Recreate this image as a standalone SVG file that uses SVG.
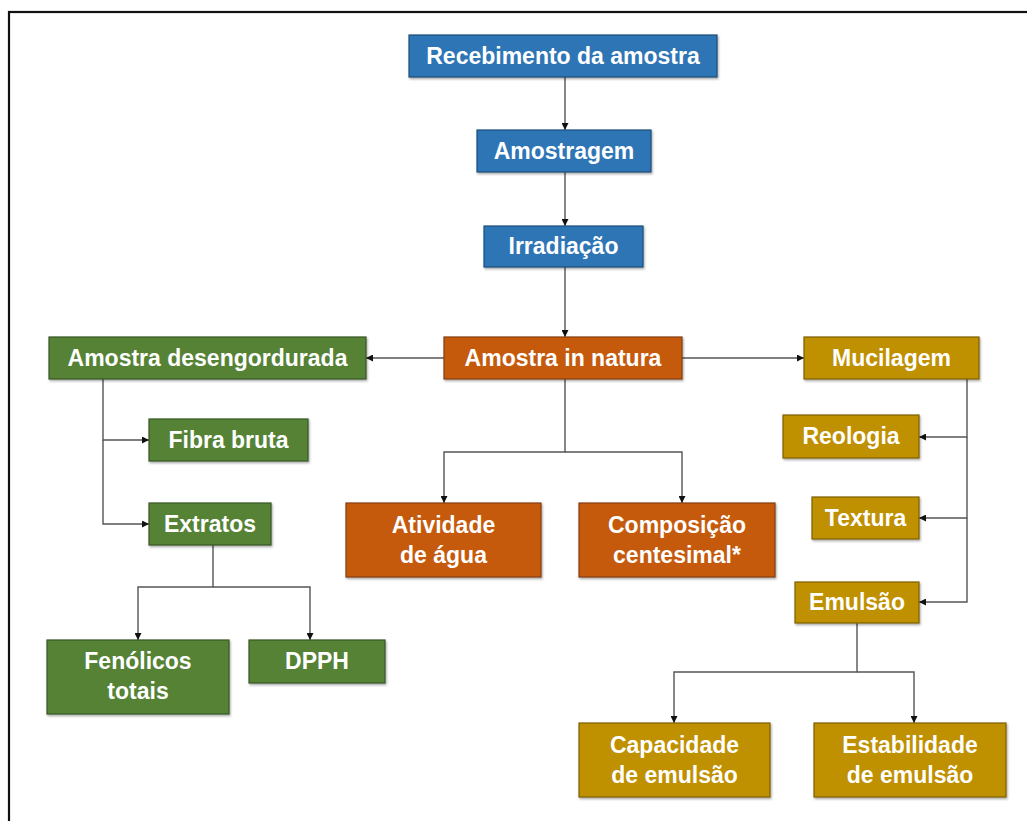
<svg xmlns="http://www.w3.org/2000/svg" width="1027" height="821" viewBox="0 0 1027 821">
<defs>
<marker id="ah" viewBox="0 0 10 10" refX="10" refY="5" markerWidth="7" markerHeight="7" markerUnits="userSpaceOnUse" orient="auto">
<path d="M0,0 L10,5 L0,10 z" fill="#111"/>
</marker>
<filter id="sh" x="-5%" y="-5%" width="110%" height="120%">
<feDropShadow dx="1" dy="1.5" stdDeviation="0.8" flood-color="#000" flood-opacity="0.35"/>
</filter>
</defs>
<style>
.b{stroke-width:1.2;filter:url(#sh)}
.blue{fill:#2E75B6;stroke:#1F4E79}
.green{fill:#548235;stroke:#385723}
.orange{fill:#C55A11;stroke:#843C0C}
.gold{fill:#BF9000;stroke:#7F6000}
text{font-family:"Liberation Sans",Arial,sans-serif;font-weight:bold;font-size:23px;fill:#fff;text-anchor:middle;dominant-baseline:central}
.c{fill:none;stroke:#555;stroke-width:1.4}
</style>
<rect x="9" y="12" width="1030" height="830" fill="#fff" stroke="#111" stroke-width="2.2"/>
<g id="connectors">
<path class="c" d="M565,77 V130" marker-end="url(#ah)"/>
<path class="c" d="M565,172 V226" marker-end="url(#ah)"/>
<path class="c" d="M565,267 V337" marker-end="url(#ah)"/>
<path class="c" d="M444,358 H366" marker-end="url(#ah)"/>
<path class="c" d="M682,358 H804" marker-end="url(#ah)"/>
<path class="c" d="M103,379 V440 H149" marker-end="url(#ah)"/>
<path class="c" d="M103,440 V524 H149" marker-end="url(#ah)"/>
<path class="c" d="M565,379 V452 H444 V503" marker-end="url(#ah)"/>
<path class="c" d="M565,452 H682 V503" marker-end="url(#ah)"/>
<path class="c" d="M967,379 V437 H919" marker-end="url(#ah)"/>
<path class="c" d="M967,437 V518 H919" marker-end="url(#ah)"/>
<path class="c" d="M967,518 V602 H919" marker-end="url(#ah)"/>
<path class="c" d="M213,545 V587 H138 V640" marker-end="url(#ah)"/>
<path class="c" d="M213,587 H310 V640" marker-end="url(#ah)"/>
<path class="c" d="M857,623 V672 H674 V723" marker-end="url(#ah)"/>
<path class="c" d="M857,672 H914 V723" marker-end="url(#ah)"/>
</g>
<g id="recebimento"><rect class="b blue" x="409" y="35" width="308" height="42"/><text x="563" y="55.5">Recebimento da amostra</text></g>
<g id="amostragem"><rect class="b blue" x="477" y="130" width="174" height="42"/><text x="564" y="150.5">Amostragem</text></g>
<g id="irradiacao"><rect class="b blue" x="484" y="226" width="159" height="41"/><text x="563.5" y="246">Irradiação</text></g>
<g id="in-natura"><rect class="b orange" x="444" y="337" width="238" height="42"/><text x="563" y="357.5">Amostra in natura</text></g>
<g id="desengordurada"><rect class="b green" x="49" y="337" width="317" height="42"/><text x="207.5" y="357.5">Amostra desengordurada</text></g>
<g id="mucilagem"><rect class="b gold" x="804" y="337" width="175" height="42"/><text x="891.5" y="357.5">Mucilagem</text></g>
<g id="fibra"><rect class="b green" x="149" y="419" width="159" height="42"/><text x="228.5" y="439.5">Fibra bruta</text></g>
<g id="extratos"><rect class="b green" x="149" y="503" width="122" height="42"/><text x="210" y="523.5">Extratos</text></g>
<g id="atividade"><rect class="b orange" x="346" y="503" width="195" height="74"/><text x="443.5" y="525">Atividade</text><text x="443.5" y="555">de água</text></g>
<g id="composicao"><rect class="b orange" x="579" y="503" width="196" height="74"/><text x="677" y="525">Composição</text><text x="677" y="555">centesimal*</text></g>
<g id="reologia"><rect class="b gold" x="783" y="415" width="136" height="43"/><text x="851" y="436">Reologia</text></g>
<g id="textura"><rect class="b gold" x="812" y="497" width="107" height="42"/><text x="865.5" y="517.5">Textura</text></g>
<g id="emulsao"><rect class="b gold" x="795" y="582" width="124" height="41"/><text x="857" y="602">Emulsão</text></g>
<g id="fenolicos"><rect class="b green" x="47" y="640" width="182" height="74"/><text x="138" y="661">Fenólicos</text><text x="138" y="691">totais</text></g>
<g id="dpph"><rect class="b green" x="249" y="640" width="136" height="43"/><text x="317" y="661">DPPH</text></g>
<g id="capacidade"><rect class="b gold" x="579" y="723" width="191" height="74"/><text x="674.5" y="745">Capacidade</text><text x="674.5" y="775">de emulsão</text></g>
<g id="estabilidade"><rect class="b gold" x="814" y="723" width="192" height="74"/><text x="910" y="745">Estabilidade</text><text x="910" y="775">de emulsão</text></g>
</svg>
